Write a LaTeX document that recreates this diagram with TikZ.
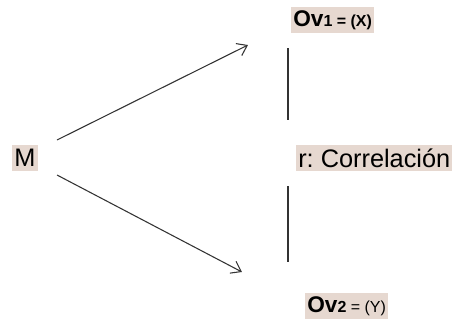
\documentclass[tikz,border=0pt]{standalone}
\usepackage{fontspec}
\setmainfont{Liberation Sans}
\usepackage{tikz}
\usetikzlibrary{arrows.meta}
\usetikzlibrary{positioning}
\definecolor{hilite}{HTML}{E6D8D0}
\definecolor{ink}{HTML}{333333}
\tikzstyle{label}=[fill=hilite,inner xsep=1.5pt,inner ysep=0pt,minimum height=20pt,font=\fontsize{19}{22}\selectfont]
\tikzstyle{ovlabel}=[label,font=\fontsize{17}{20}\selectfont\bfseries]
\newcommand{\subtxt}[1]{{\fontsize{12}{14}\selectfont #1}}
\frenchspacing

\begin{document}
\begin{tikzpicture}[
  x=0.75pt,y=-0.75pt,
  link/.style={draw=ink,line width=0.8pt,-{Straight Barb[length=7pt,width=10pt]}},
  bar/.style={draw=ink,line width=0.9pt},
]
  \useasboundingbox (0,0) rectangle (455,322);
  \node[label] (m) at (25,158) {M};
  \node[ovlabel,anchor=west] (ov1) at (291,20) {Ov\subtxt{1 = (X)}};
  \node[label,anchor=west] (r) at (296,158) {r: Correlación};
  \node[ovlabel,anchor=west] (ov2) at (305,306) {Ov\subtxt{2 {\mdseries= (Y)}}};
  % arrow ends
  \coordinate (up a) at (57,140);
  \coordinate (up b) at (248,45);
  \coordinate (dn a) at (57,175);
  \coordinate (dn b) at (242,272);
  \draw[link] (up a) -- (up b);
  \draw[link] (dn a) -- (dn b);
  % correlation bars
  \coordinate (t1) at (288,48);
  \coordinate (t2) at (288,120);
  \coordinate (b1) at (288,186);
  \coordinate (b2) at (288,262);
  \draw[bar] (t1) -- (t2);
  \draw[bar] (b1) -- (b2);
\end{tikzpicture}
\end{document}
